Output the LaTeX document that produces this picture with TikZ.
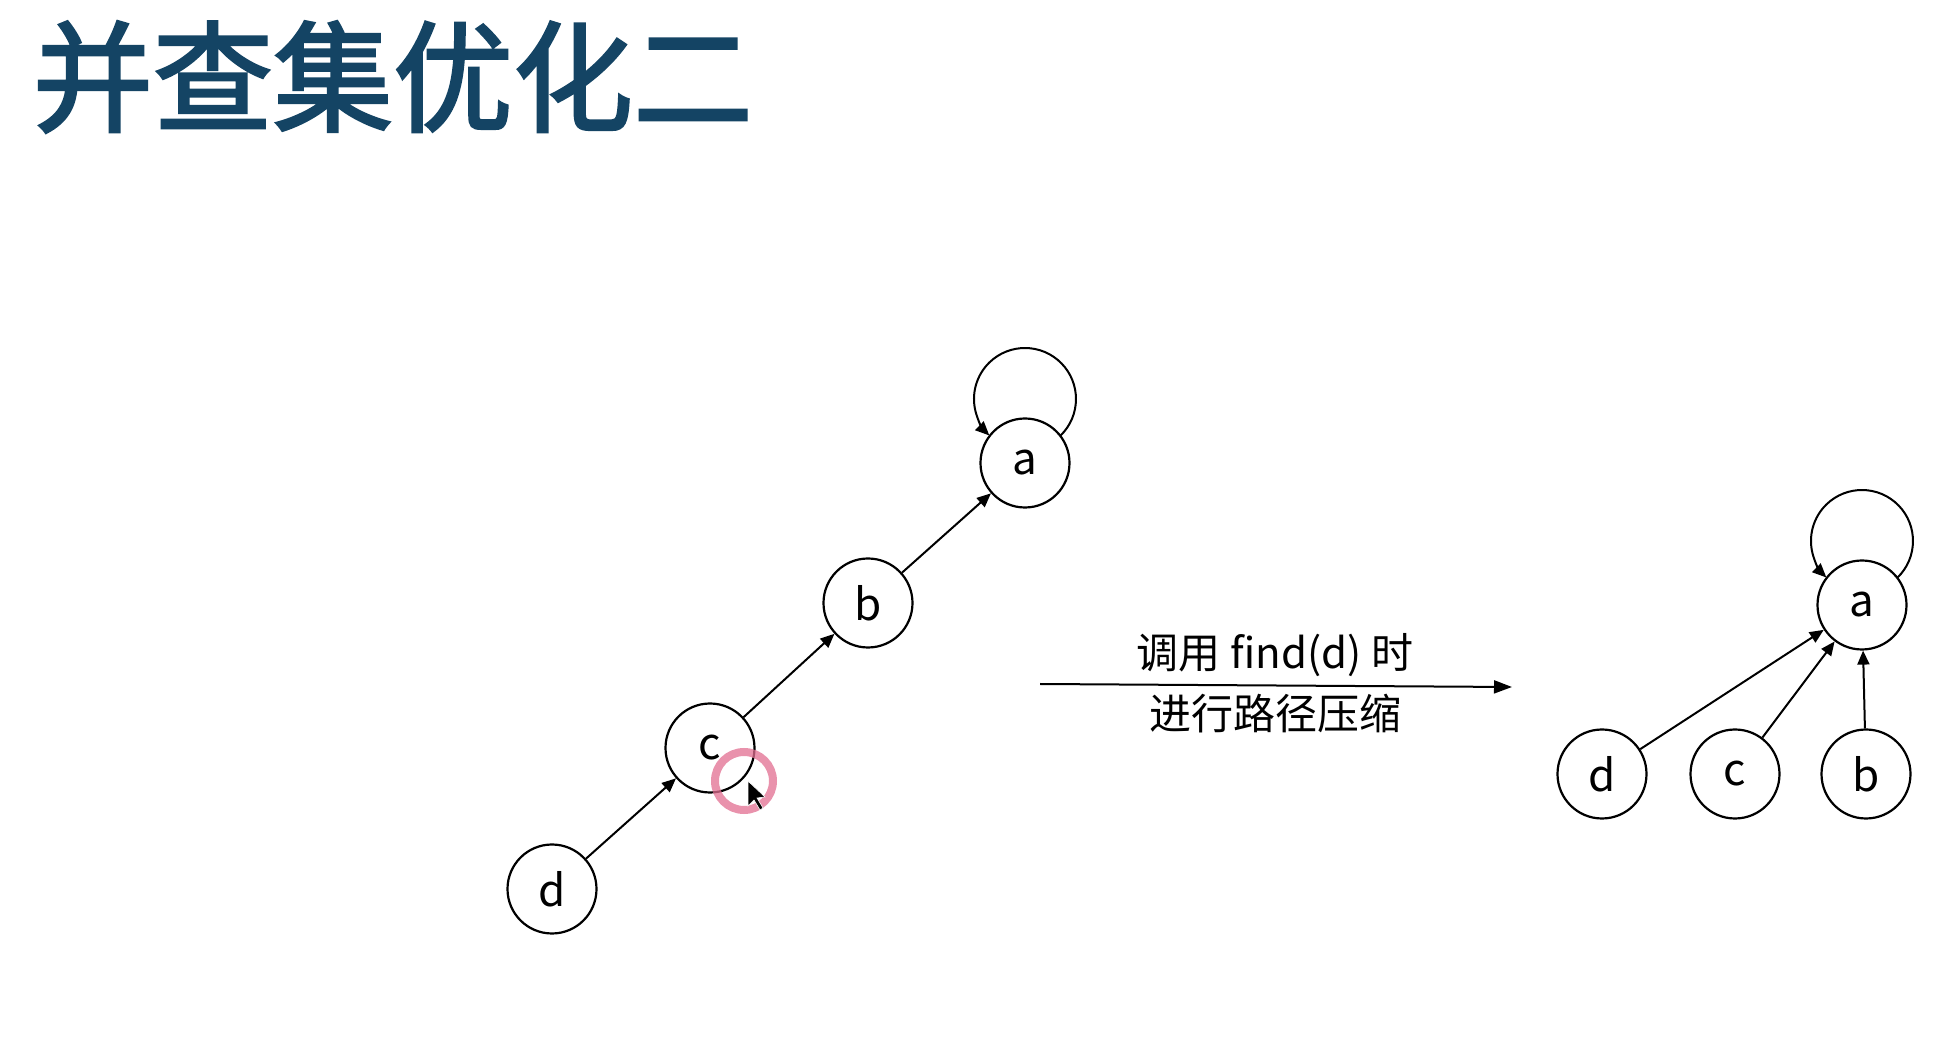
\documentclass[tikz,border=0pt]{standalone}
\usepackage{fontspec}
\setmainfont{Noto Sans CJK SC}
\newfontfamily\cjk{Noto Sans CJK SC}
\newfontfamily\titlefont[FakeBold=2.2]{Noto Sans CJK SC}
\usetikzlibrary{arrows.meta}
\definecolor{titleblue}{RGB}{20,68,100}
\definecolor{ringpink}{RGB}{226,110,145}
\begin{document}
\begin{tikzpicture}[x=0.5pt,y=0.5pt,
  vtx/.style={circle,draw=black,line width=1.1pt,minimum size=44.5pt,inner sep=0pt,font=\cjk\fontsize{22}{22}\selectfont},
  edgearrow/.style={line width=1pt,-{Triangle[length=7pt,width=6pt]}},
  bigarrow/.style={line width=1pt,-{Triangle[length=9pt,width=6.5pt]}},
  lbl/.style={font=\cjk\fontsize{21}{21}\selectfont,inner sep=0pt}]
\useasboundingbox[fill=white] (0,0) rectangle (1935,1056);
% title
\node[font=\titlefont\fontsize{60}{60}\selectfont,text=titleblue,inner sep=0pt] (title) at (393,979) {并查集优化二};
% left graph
\node[vtx] (a1) at (1025,593) {a};
\node[vtx] (b1) at (868,453) {b};
\node[vtx] (c1) at (710,308) {c};
\node[vtx] (d1) at (552,167) {d};
\draw[edgearrow] (d1) -- (c1);
\draw[edgearrow] (c1) -- (b1);
\draw[edgearrow] (b1) -- (a1);
\draw[edgearrow] ([shift={(35.6,27.5)}]a1.center) arc[start angle=-45.7,end angle=225.7,radius=51];
% middle arrow
\coordinate (s) at (1040,372);
\coordinate (e) at (1512,369);
\draw[bigarrow] (s) -- (e);
\node[lbl] (t1) at (1275,401) {调用 find(d) 时};
\node[lbl] (t2) at (1275,342) {进行路径压缩};
% right graph
\node[vtx] (a2) at (1862,451) {a};
\node[vtx] (d2) at (1602,282) {d};
\node[vtx] (c2) at (1735,282) {c};
\node[vtx] (b2) at (1866,282) {b};
\draw[edgearrow] (d2) -- (a2);
\draw[edgearrow] (c2) -- (a2);
\draw[edgearrow] (b2) -- (a2);
\draw[edgearrow] ([shift={(35.6,27.5)}]a2.center) arc[start angle=-45.7,end angle=225.7,radius=51];
% cursor highlight
\draw[ringpink,opacity=0.75,line width=4pt] (744,275) circle[radius=29];
\draw[fill=black,line width=0.3pt,draw=white] (748,275) -- (748,250) -- (754,256) -- (760,246) -- (763,248) -- (757,258) -- (765,259) -- cycle;
\end{tikzpicture}
\end{document}
